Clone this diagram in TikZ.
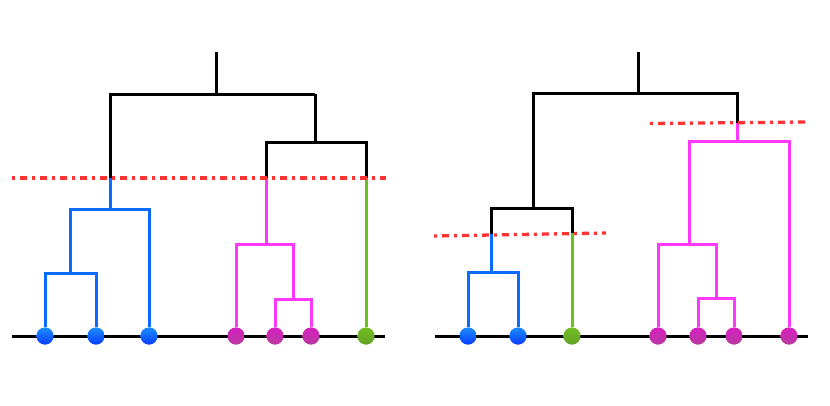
\documentclass[tikz,border=0pt]{standalone}
\usetikzlibrary{calc}
\definecolor{cblue}{HTML}{0A6CFF}
\definecolor{cmag}{HTML}{FF38FF}
\definecolor{cgreen}{HTML}{6AC21A}
\definecolor{dbluet}{HTML}{1A8CFF}
\definecolor{dblueb}{HTML}{0A3CFF}
\definecolor{dmagt}{HTML}{D620C0}
\definecolor{dmagb}{HTML}{B83AA0}
\definecolor{dgreent}{HTML}{74BE26}
\definecolor{dgreenb}{HTML}{62A024}
\definecolor{cred}{HTML}{FF3333}
\tikzset{
  br/.style={line width=3pt, line join=miter},
  blk/.style={br, black},
  blu/.style={br, cblue},
  mag/.style={br, cmag},
  grn/.style={br, cgreen},
  cut/.style={line width=3.3pt, cred, dash pattern=on 3pt off 5pt on 7pt off 5pt},
  base/.style={line width=3pt, black},
  leaf/.style={circle, inner sep=0pt, minimum size=17pt, draw=none},
  leafb/.style={leaf, shading=axis, top color=dbluet, bottom color=dblueb},
  leafm/.style={leaf, shading=axis, top color=dmagt, bottom color=dmagb},
  leafg/.style={leaf, shading=axis, top color=dgreent, bottom color=dgreenb},
}
\begin{document}
\begin{tikzpicture}[x=1pt,y=-1pt]
\useasboundingbox (0,0) rectangle (830,405);
% ---------- left dendrogram ----------
\node[leafb] (a1) at (45,336) {};
\node[leafb] (a2) at (96,336) {};
\node[leafb] (a3) at (149,336) {};
\node[leafm] (a4) at (236,336) {};
\node[leafm] (a5) at (275,336) {};
\node[leafm] (a6) at (311,336) {};
\node[leafg] (a7) at (366,336) {};
\coordinate (ab1) at (70,273);
\coordinate (ab2) at (110,209);
\coordinate (abc) at (110,178);
\coordinate (atl) at (110,94);
\coordinate (am1) at (293,299);
\coordinate (am2) at (266,244);
\coordinate (amc) at (266,178);
\coordinate (agc) at (366,178);
\coordinate (ar) at (315,142);
\coordinate (atr) at (315,94);
\coordinate (atop) at (216,94);
\coordinate (aroot) at (216,52);
\coordinate (acl) at (12,178);
\coordinate (acr) at (386,178);
\coordinate (abl) at (12,336);
\coordinate (abr) at (385,336);
\draw[blu] (a1) |- (ab1) -| (a2);
\draw[blu] (ab1) |- (ab2) -| (a3);
\draw[blu] (ab2) -- (abc);
\draw[mag] (a5) |- (am1) -| (a6);
\draw[mag] (am1) |- (am2) -| (a4);
\draw[mag] (am2) -- (amc);
\draw[grn] (a7) -- (agc);
\draw[blk] (amc) |- (ar) -| (agc);
\draw[blk] (ar) -- (atr);
\draw[blk] (abc) -- (atl) -- (atr);
\draw[blk] (atop) -- (aroot);
\draw[cut] (acl) -- (acr);
\draw[base] (abl) -- (abr);
% ---------- right dendrogram ----------
\coordinate (bb1) at (491,272);
\coordinate (bbc) at (491,234);
\coordinate (bgc) at (572,233);
\coordinate (bl) at (533,208);
\coordinate (btl) at (533,93);
\coordinate (btr) at (737,93);
\coordinate (bmc) at (737,123);
\coordinate (bm0) at (737,141);
\coordinate (bm1) at (716,298);
\coordinate (bm2) at (689,244);
\coordinate (btop) at (638,93);
\coordinate (broot) at (638,52);
\coordinate (bc1l) at (434,236);
\coordinate (bc1r) at (606,233);
\coordinate (bc2l) at (650,123.5);
\coordinate (bc2r) at (806,122);
\coordinate (bbl) at (435,336);
\coordinate (bbr) at (808,336);
\node[leafb] (b1) at (468,336) {};
\node[leafb] (b2) at (518,336) {};
\node[leafg] (b3) at (572,336) {};
\node[leafm] (b4) at (658,336) {};
\node[leafm] (b5) at (698,336) {};
\node[leafm] (b6) at (734,336) {};
\node[leafm] (b7) at (789,336) {};
\draw[blu] (b1) |- (bb1) -| (b2);
\draw[blu] (bb1) -- (bbc);
\draw[grn] (b3) -- (bgc);
\draw[blk] (bbc) |- (bl) -| (bgc);
\draw[blk] (bl) -- (btl) -- (btr) -- (bmc);
\draw[blk] (btop) -- (broot);
\draw[mag] (bmc) -- (bm0);
\draw[mag] (b5) |- (bm1) -| (b6);
\draw[mag] (bm1) |- (bm2) -| (b4);
\draw[mag] (bm2) |- (bm0) -| (b7);
\draw[cut] (bc1l) -- (bc1r);
\draw[cut] (bc2l) -- (bc2r);
\draw[base] (bbl) -- (bbr);
% redraw leaves on top
\foreach \n in {a1,a2,a3,b1,b2}{\node[leafb] at (\n) {};}
\foreach \n in {a4,a5,a6,b4,b5,b6,b7}{\node[leafm] at (\n) {};}
\foreach \n in {a7,b3}{\node[leafg] at (\n) {};}
\end{tikzpicture}
\end{document}
